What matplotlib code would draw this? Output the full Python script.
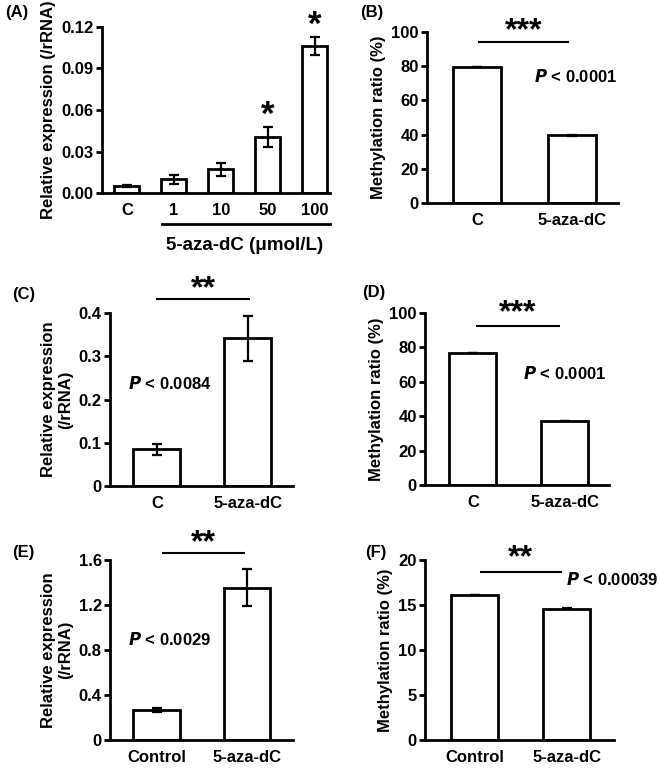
import matplotlib
matplotlib.use("Agg")
import matplotlib.pyplot as plt
import matplotlib.transforms as mtransforms

plt.rcParams['font.family'] = ['Liberation Sans', 'DejaVu Sans']
plt.rcParams['font.weight'] = 'bold'
plt.rcParams['font.size'] = 12

# (A) dose response
a_labels = ['C', '1', '10', '50', '100']
a_values = [0.005, 0.0098, 0.017, 0.0405, 0.1062]
a_errors = [0.001, 0.0035, 0.0045, 0.007, 0.0068]

# (B) methylation
b_labels = ['C', '5-aza-dC']
b_values = [79.5, 39.5]
b_errors = [0.0, 0.5]

# (C) relative expression
c_labels = ['C', '5-aza-dC']
c_values = [0.085, 0.342]
c_errors = [0.013, 0.052]

# (D) methylation
d_labels = ['C', '5-aza-dC']
d_values = [76.5, 37.5]
d_errors = [0.0, 0.0]

# (E) relative expression
e_labels = ['Control', '5-aza-dC']
e_values = [0.268, 1.355]
e_errors = [0.015, 0.168]

# (F) methylation
f_labels = ['Control', '5-aza-dC']
f_values = [16.1, 14.6]
f_errors = [0.0, 0.08]

W, H = 658, 772


def make_axes(fig, left, right, top, bottom):
    return fig.add_axes([left / W, 1 - bottom / H, (right - left) / W, (bottom - top) / H])


def bar_panel(ax, labels, values, errors, width, xlim, ylim, yticks, yticklabels, ylabel):
    x = list(range(len(labels)))
    ax.bar(x, values, width=width, color='white', edgecolor='black', linewidth=2, zorder=2)
    ax.errorbar(x, values, yerr=errors, fmt='none', ecolor='black', elinewidth=1.6,
                capsize=3.5, capthick=1.6, zorder=3)
    ax.set_xlim(*xlim)
    ax.set_ylim(*ylim)
    ax.set_xticks(x)
    ax.set_xticklabels(labels)
    ax.set_yticks(yticks)
    ax.set_yticklabels(yticklabels)
    ax.set_ylabel(ylabel, fontweight='bold')
    for s in ['top', 'right']:
        ax.spines[s].set_visible(False)
    for s in ['left', 'bottom']:
        ax.spines[s].set_linewidth(2)
    ax.tick_params(axis='x', length=0, pad=7)
    ax.tick_params(axis='y', length=4, width=2, direction='out', pad=2)


def sig(ax, x0, x1, y, stars, star_y, p_text, p_xy):
    ax.plot([x0, x1], [y, y], color='black', linewidth=1.5, clip_on=False)
    ax.text((x0 + x1) / 2, star_y, stars, ha='center', va='center',
            fontsize=23, fontweight='bold', clip_on=False)
    ax.text(p_xy[0], p_xy[1], p_text, ha='left', va='center', fontsize=12,
            fontweight='bold', clip_on=False)


def ptext(v):
    return r'$\mathbfit{P}$' + ' < ' + v


fig = plt.figure(figsize=(W / 100, H / 100), dpi=100)

# Panel A
axA = make_axes(fig, 102, 330, 27, 193)
bar_panel(axA, a_labels, a_values, a_errors, 0.53, (-0.53, 4.32), (0, 0.12),
          [0, 0.03, 0.06, 0.09, 0.12], ['0.00', '0.03', '0.06', '0.09', '0.12'],
          'Relative expression (/rRNA)')
for i in [3, 4]:
    axA.text(i, a_values[i] + a_errors[i] + 0.0085, '*', ha='center', va='center',
             fontsize=25, fontweight='bold', clip_on=False)
tA = mtransforms.blended_transform_factory(axA.transData, axA.transAxes)
axA.plot([0.745, 4.32], [-0.187, -0.187], color='black', linewidth=2, transform=tA, clip_on=False)
axA.text(2.51, -0.315, '5-aza-dC (μmol/L)', ha='center', va='center', transform=tA,
         fontsize=13.5, fontweight='bold')

# Panel B
axB = make_axes(fig, 427, 618, 32, 203)
bar_panel(axB, b_labels, b_values, b_errors, 0.505, (-0.526, 1.484), (0, 100),
          [0, 20, 40, 60, 80, 100], ['0', '20', '40', '60', '80', '100'],
          'Methylation ratio (%)')
sig(axB, 0.02, 0.96, 94, '***', 100.5, ptext('0.0001'), (0.6, 74))

# Panel C
axC = make_axes(fig, 110, 293, 313, 486)
bar_panel(axC, c_labels, c_values, c_errors, 0.516, (-0.516, 1.495), (0, 0.4),
          [0, 0.1, 0.2, 0.3, 0.4], ['0', '0.1', '0.2', '0.3', '0.4'],
          'Relative expression\n(/rRNA)')
sig(axC, 0.0, 1.01, 0.432, '**', 0.455, ptext('0.0084'), (-0.32, 0.238))

# Panel D
axD = make_axes(fig, 425, 609, 313, 485)
bar_panel(axD, d_labels, d_values, d_errors, 0.51, (-0.52, 1.478), (0, 100),
          [0, 20, 40, 60, 80, 100], ['0', '20', '40', '60', '80', '100'],
          'Methylation ratio (%)')
sig(axD, 0.05, 0.93, 92.4, '***', 100, ptext('0.0001'), (0.54, 65))

# Panel E
axE = make_axes(fig, 110, 293, 560, 740)
bar_panel(axE, e_labels, e_values, e_errors, 0.52, (-0.52, 1.51), (0, 1.6),
          [0, 0.4, 0.8, 1.2, 1.6], ['0', '0.4', '0.8', '1.2', '1.6'],
          'Relative expression\n(/rRNA)')
sig(axE, 0.07, 0.97, 1.662, '**', 1.75, ptext('0.0029'), (-0.32, 0.89))

# Panel F
axF = make_axes(fig, 425, 614, 560, 740)
bar_panel(axF, f_labels, f_values, f_errors, 0.51, (-0.54, 1.51), (0, 20),
          [0, 5, 10, 15, 20], ['0', '5', '10', '15', '20'],
          'Methylation ratio (%)')
sig(axF, 0.065, 0.93, 18.7, '**', 20.2, ptext('0.00039'), (0.99, 17.8))

# panel letters
for lbl, x, y in [('(A)', 5, 13), ('(B)', 360, 12), ('(C)', 12, 295),
                  ('(D)', 362, 293), ('(E)', 12, 552), ('(F)', 365, 552)]:
    fig.text(x / W, 1 - y / H, lbl, ha='left', va='center', fontsize=12, fontweight='bold')

fig.savefig('out.png', dpi=100)
